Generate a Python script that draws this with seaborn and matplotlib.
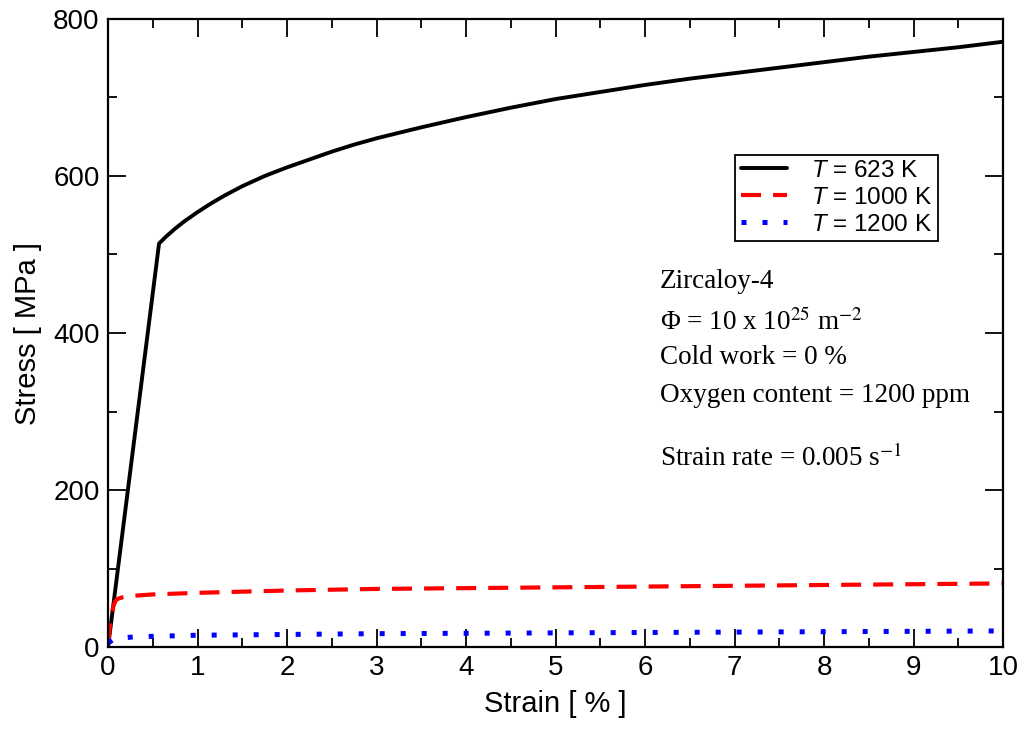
import numpy as np
import pandas as pd
import matplotlib
matplotlib.use("Agg")
import matplotlib.pyplot as plt
import seaborn as sns
from matplotlib.ticker import MultipleLocator

# strain [%] / stress [MPa]
strain_623 = [0.0, 0.57, 0.65, 0.75, 0.85, 1.0, 1.15, 1.3, 1.5, 1.75, 2.0, 2.25, 2.5, 2.75,
              3.0, 3.5, 4.0, 4.5, 5.0, 5.5, 6.0, 6.5, 7.0, 7.5, 8.0, 8.5, 9.0, 9.5, 10.0]
stress_623 = [0, 514, 523, 533, 542, 554, 565, 575, 587, 600, 611, 621, 631, 640,
              648, 662, 675, 687, 698, 707, 716, 724, 731, 738, 745, 752, 758, 764, 771]

strain_1000 = [0.0, 0.03, 0.06, 0.08, 0.1, 0.15, 0.25, 0.5, 1.0, 2.0, 3.0, 4.0, 5.0,
               6.0, 7.0, 8.0, 9.0, 10.0]
stress_1000 = [5, 35, 52, 58, 61, 63, 65, 67, 69, 72, 74, 75, 76, 77, 78, 79, 80, 81]

strain_1200 = [0.0, 0.05, 0.1, 0.3, 1.0, 2.0, 3.0, 4.0, 5.0, 6.0, 7.0, 8.0, 9.0, 10.0]
stress_1200 = [5, 9, 11, 13, 15, 16, 17, 17.5, 18, 18.5, 19, 19.5, 20, 20.5]

labels = ["$T$ = 623 K", "$T$ = 1000 K", "$T$ = 1200 K"]

sns.set_style("ticks")
plt.rcParams["font.family"] = ["Liberation Sans", "DejaVu Sans"]
plt.rcParams["mathtext.fontset"] = "custom"
plt.rcParams["mathtext.rm"] = "Liberation Sans"
plt.rcParams["mathtext.it"] = "Liberation Sans:italic"
for k in ["text.color", "axes.labelcolor", "xtick.color", "ytick.color", "axes.edgecolor"]:
    plt.rcParams[k] = "black"

fig = plt.figure(figsize=(10.24, 7.36), dpi=100)
ax = fig.add_axes([0.1055, 0.1209, 0.874, 0.8533])

sns.lineplot(x=strain_623, y=stress_623, ax=ax, color="black", lw=2.8, label=labels[0])
sns.lineplot(x=strain_1000, y=stress_1000, ax=ax, color="red", lw=3, label=labels[1])
sns.lineplot(x=strain_1200, y=stress_1200, ax=ax, color="blue", lw=3.6, label=labels[2])
ax.lines[1].set_dashes([4.8, 2.9])
ax.lines[2].set_dashes([1, 3.2])

ax.set_xlim(0, 10)
ax.set_ylim(0, 800)
ax.xaxis.set_major_locator(MultipleLocator(1))
ax.xaxis.set_minor_locator(MultipleLocator(0.5))
ax.yaxis.set_major_locator(MultipleLocator(200))
ax.yaxis.set_minor_locator(MultipleLocator(100))
ax.tick_params(which="both", direction="in", top=True, right=True, width=1.3, labelsize=20)
ax.tick_params(which="major", length=13, pad=6)
ax.tick_params(which="minor", length=6.5)
for s in ax.spines.values():
    s.set_linewidth(1.6)

ax.set_xlabel("Strain [ % ]", fontsize=21, labelpad=6)
ax.set_ylabel("Stress [ MPa ]", fontsize=21, labelpad=8)

leg = ax.legend(loc="upper left", bbox_to_anchor=(0.701, 0.784), fontsize=17.5,
                frameon=True, fancybox=False, edgecolor="black", framealpha=1,
                handlelength=1.9, borderpad=0.22, labelspacing=0.2, handletextpad=1.0,
                borderaxespad=0)
leg.get_frame().set_linewidth(1.3)

serif = ["Liberation Serif", "DejaVu Serif"]
note = [("Zircaloy-4", 282), ("Φ = 10 x 10$^{25}$ m$^{-2}$", 322), ("Cold work = 0 %", 358),
        ("Oxygen content = 1200 ppm", 395), ("Strain rate = 0.005 s$^{-1}$", 458)]
for txt, ypix in note:
    fig.text(660 / 1024, 1 - ypix / 736, txt, fontsize=19.5, family=serif,
             math_fontfamily="stix", va="center", ha="left")

fig.savefig("out.png", dpi=100)
